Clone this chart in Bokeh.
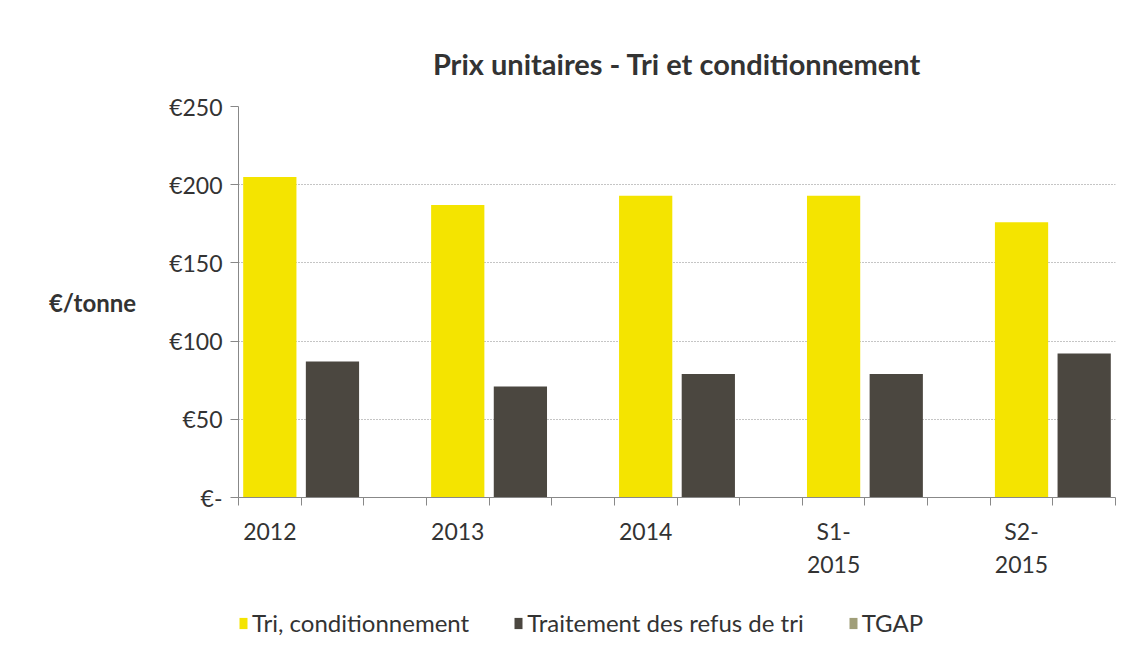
from bokeh.plotting import figure
from bokeh.layouts import column
from bokeh.models import Range1d, FixedTicker, Legend, LegendItem, ColumnDataSource
from bokeh.embed import file_html
from bokeh.resources import INLINE

categories = ["2012", "2013", "2014", "S1-\n2015", "S2-\n2015"]
tri = [205, 187, 193, 193, 176]
refus = [87, 71, 79, 79, 92]
tgap = [0, 0, 0, 0, 0]
series_names = ["Tri, conditionnement", "Traitement des refus de tri", "TGAP"]
colors = ["#F4E400", "#4B4740", "#A09E78"]
y_ticks = [0, 50, 100, 150, 200, 250]
y_labels = ["€-", "€50", "€100", "€150", "€200", "€250"]

FONT = "Lato"
n_series = 3
p = figure(frame_width=877, frame_height=391, output_backend="svg", toolbar_location=None,
           x_range=Range1d(0, 14), y_range=Range1d(0, 250),
           min_border_left=238, min_border_right=5, min_border_top=106, min_border_bottom=106)
p.outline_line_color = None
p.background_fill_color = "white"
p.border_fill_color = "white"

for s, vals in enumerate([tri, refus, tgap]):
    xs = [i * n_series + s + 0.5 for i in range(len(categories))]
    src = ColumnDataSource(dict(x=xs, top=vals))
    p.vbar(x="x", top="top", width=0.85, bottom=0, source=src,
           fill_color=colors[s], line_color=None)

# title
p.title.text = "Prix unitaires - Tri et conditionnement"
p.title.align = "center"
p.title.text_font = FONT
p.title.text_font_size = "29px"
p.title.text_font_style = "bold"
p.title.text_color = "#333333"
p.title.standoff = 51

# y axis
p.yaxis.ticker = FixedTicker(ticks=y_ticks)
p.yaxis.major_label_overrides = {t: l for t, l in zip(y_ticks, y_labels)}
p.yaxis.major_label_text_font = FONT
p.yaxis.major_label_text_font_size = "23px"
p.yaxis.major_label_text_color = "#333333"
p.yaxis.axis_line_color = "#888888"
p.yaxis.major_tick_line_color = "#888888"
p.yaxis.major_tick_out = 8
p.yaxis.major_tick_in = 0
p.yaxis.minor_tick_line_color = None
p.yaxis.major_label_standoff = 8
p.yaxis.axis_label = "€/tonne"
p.yaxis.axis_label_text_font = FONT
p.yaxis.axis_label_text_font_size = "24px"
p.yaxis.axis_label_text_font_style = "bold"
p.yaxis.axis_label_text_color = "#333333"
p.yaxis.axis_label_standoff = 30
if hasattr(p.yaxis[0], "axis_label_orientation"):
    p.yaxis.axis_label_orientation = "horizontal"

# x axis
major_x = [i * n_series + 0.5 for i in range(len(categories))]
p.xaxis.ticker = FixedTicker(ticks=major_x, minor_ticks=list(range(0, 15)))
p.xaxis.major_label_overrides = {t: c for t, c in zip(major_x, categories)}
p.xaxis.major_label_text_font = FONT
p.xaxis.major_label_text_font_size = "23px"
p.xaxis.major_label_text_color = "#333333"
p.xaxis.major_label_standoff = 11
p.xaxis.major_tick_line_color = None
p.xaxis.minor_tick_line_color = "#888888"
p.xaxis.minor_tick_out = 8
p.xaxis.minor_tick_in = 0
p.xaxis.axis_line_color = "#888888"

# grid
p.xgrid.grid_line_color = None
p.ygrid.ticker = FixedTicker(ticks=y_ticks)
p.ygrid.grid_line_color = "#8a8a8a"
p.ygrid.grid_line_dash = "1 2"
p.ygrid.grid_line_width = 1

# legend strip (separate small figure below the chart)
lg = figure(width=1120, height=36, output_backend="svg", toolbar_location=None,
            x_range=Range1d(0, 1), y_range=Range1d(0, 1),
            x_axis_location=None, y_axis_location=None,
            min_border=0, min_border_left=0, min_border_right=0,
            min_border_top=0, min_border_bottom=0)
lg.outline_line_color = None
lg.xgrid.grid_line_color = None
lg.ygrid.grid_line_color = None
leg_renderers = []
for s in range(n_series):
    # legend proxy glyph, placed outside the visible range
    r = lg.quad(left=[-5], right=[-4], top=[1], bottom=[0], fill_color=colors[s], line_color=None)
    leg_renderers.append(r)

legend = Legend(items=[LegendItem(label=n, renderers=[r]) for n, r in zip(series_names, leg_renderers)],
                orientation="horizontal", location=(0, 2))
legend.label_text_font = FONT
legend.label_text_font_size = "24px"
legend.label_text_color = "#333333"
legend.glyph_width = 10
legend.glyph_height = 14
legend.label_standoff = 4
legend.spacing = 44
legend.border_line_color = None
legend.background_fill_alpha = 0
legend.margin = 0
legend.padding = 0
lg.add_layout(legend)

open("out.html", "w").write(file_html(column(p, lg, spacing=0), INLINE))
